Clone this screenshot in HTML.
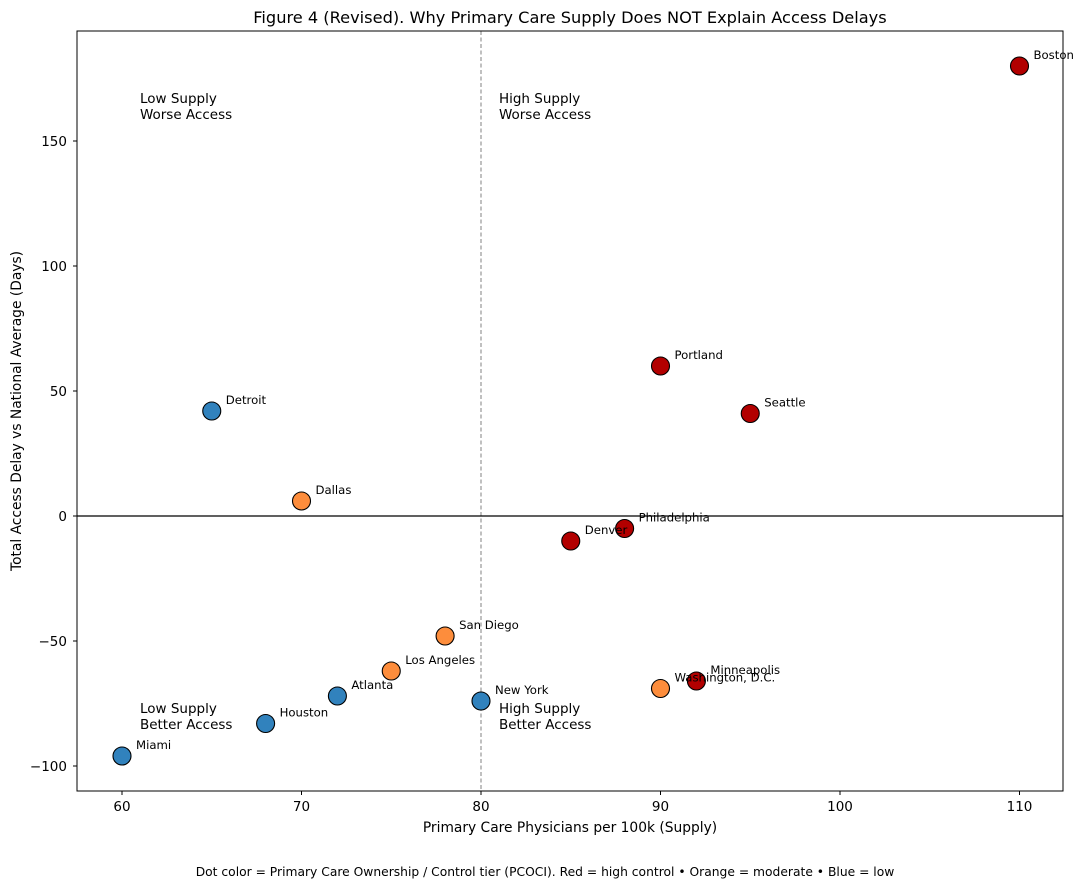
<!DOCTYPE html>
<html><head><meta charset="utf-8"><style>
body{margin:0;background:#fff;}
svg text{font-family:"DejaVu Sans","Liberation Sans",sans-serif;}
</style></head><body>
<svg width="1085" height="889" xmlns="http://www.w3.org/2000/svg">
<rect width="1085" height="889" fill="#fff"/>
<g id="plot"></g>
</svg>
<script>
const cities=["Boston","Portland","Seattle","Detroit","Dallas","Philadelphia","Denver","San Diego","Los Angeles","Atlanta","New York","Houston","Miami","Washington, D.C.","Minneapolis"];
const supply=[110,90,95,65,70,88,85,78,75,72,80,68,60,90,92];
const delay=[180,60,41,42,6,-5,-10,-48,-62,-72,-74,-83,-96,-69,-66];
const tier=["high","high","high","low","moderate","high","high","moderate","moderate","low","low","low","low","moderate","high"];
const xTicks=[60,70,80,90,100,110];
const yTicks=[-100,-50,0,50,100,150];
const colors={high:"#b20000",moderate:"#fd8d3c",low:"#3182bd"};
const L=77,R=1063,T=31,B=791;
const X=v=>122+(v-60)*17.95;
const Y=v=>516-v*2.5;
const NS="http://www.w3.org/2000/svg";
const g=document.getElementById('plot');
function mk(tag,attrs,txt){const e=document.createElementNS(NS,tag);for(const k in attrs)e.setAttribute(k,attrs[k]);if(txt!==undefined)e.textContent=txt;g.appendChild(e);return e;}
let e;
e=mk('text',{x:570,y:23,'text-anchor':'middle','font-size':16.2},'Figure 4 (Revised). Why Primary Care Supply Does NOT Explain Access Delays');


e=mk('line',{x1:X(80),x2:X(80),y1:T,y2:B,stroke:'#808080','stroke-width':1,'stroke-dasharray':'4,2.5'});


e=mk('line',{x1:L,x2:R,y1:Y(0),y2:Y(0),stroke:'#000','stroke-width':1.2});


const quads=[["Low Supply","Worse Access",61,160],["High Supply","Worse Access",81,160],["Low Supply","Better Access",61,-84],["High Supply","Better Access",81,-84]];
quads.forEach(q=>{const t=mk('text',{x:X(q[2]),y:Y(q[3])-13,'font-size':13.5});


const a=document.createElementNS(NS,'tspan');a.setAttribute('x',X(q[2]));a.textContent=q[0];t.appendChild(a);
const b=document.createElementNS(NS,'tspan');b.setAttribute('x',X(q[2]));b.setAttribute('dy','16');b.textContent=q[1];t.appendChild(b);});
cities.forEach((c,i)=>{const p=mk('circle',{cx:X(supply[i]),cy:Y(delay[i]),r:9,fill:colors[tier[i]],stroke:'#000','stroke-width':1.1});

});
cities.forEach((c,i)=>{const t=mk('text',{x:X(supply[i])+14,y:Y(delay[i])-7,'font-size':11.7},c);

});
e=mk('rect',{x:L,y:T,width:R-L,height:B-T,fill:'none',stroke:'#000','stroke-width':1});


xTicks.forEach(v=>{mk('line',{x1:X(v),x2:X(v),y1:B,y2:B+4,stroke:'#000'});
const t=mk('text',{x:X(v),y:B+20,'text-anchor':'middle','font-size':13.5},v);

});
yTicks.forEach(v=>{mk('line',{x1:L-4,x2:L,y1:Y(v),y2:Y(v),stroke:'#000'});
const t=mk('text',{x:L-10,y:Y(v)+5,'text-anchor':'end','font-size':13.5},v<0?'\u2212'+(-v):v);

});
e=mk('text',{x:570,y:832,'text-anchor':'middle','font-size':13.8},'Primary Care Physicians per 100k (Supply)');


e=mk('text',{x:21,y:411,'text-anchor':'middle','font-size':13.8,transform:'rotate(-90 21 411)'},'Total Access Delay vs National Average (Days)');


e=mk('text',{x:545,y:876,'text-anchor':'middle','font-size':12.3},'Dot color = Primary Care Ownership / Control tier (PCOCI). Red = high control \u2022 Orange = moderate \u2022 Blue = low');


</script>
</body></html>
